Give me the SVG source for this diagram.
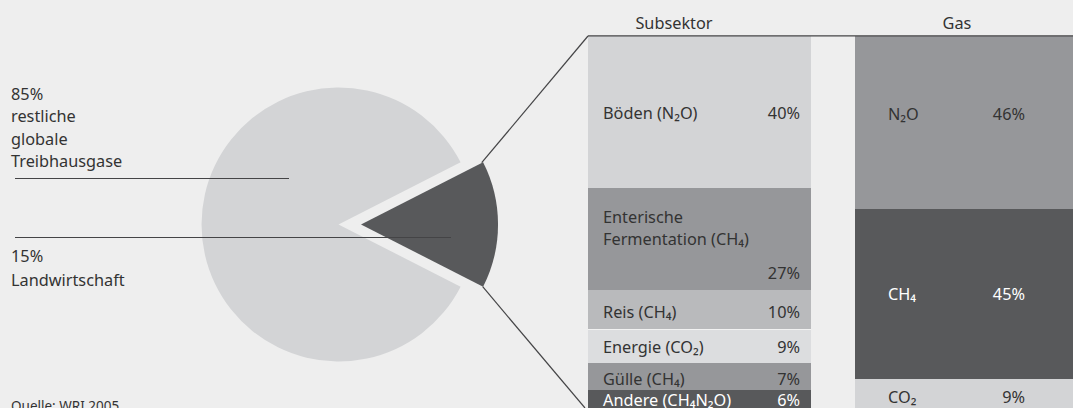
<svg xmlns="http://www.w3.org/2000/svg" width="1073" height="408" viewBox="0 0 1073 408">
<style>
text{font-family:"Noto Sans","Open Sans","Liberation Sans",sans-serif;font-size:16.3px;fill:#333333}
.w{fill:#ffffff}
.r{text-anchor:end}
.m{text-anchor:middle}
.ln{stroke:#444446;stroke-width:1.2;fill:none}
.src{font-size:13.5px}
</style>
<rect width="1073" height="408" fill="#eeeeee"/>
<g id="pie">
<path id="rest" d="M338.5,224.5 L460.6,162.3 A137,137 0 1,0 460.6,286.7 Z" fill="#d3d4d6"/>
<path id="agri" d="M361,224.5 L483.1,162.3 A137,137 0 0,1 483.1,286.7 Z" fill="#58595b"/>
</g>
<g id="labels-left">
<text x="11" y="99.5">85%</text>
<text x="11" y="122">restliche</text>
<text x="11" y="144.5">globale</text>
<text x="11" y="167">Treibhausgase</text>
<text x="11" y="262">15%</text>
<text x="11" y="285.5">Landwirtschaft</text>
<text class="src" x="11" y="411">Quelle: WRI 2005</text>
</g>
<g id="subsektor">
<rect x="588" y="36" width="223" height="152" fill="#d3d4d6"/>
<rect x="588" y="188" width="223" height="102" fill="#96979a"/>
<rect x="588" y="290" width="223" height="39" fill="#b9babc"/>
<rect x="588" y="329" width="223" height="34" fill="#dcdddf"/>
<rect x="588" y="363" width="223" height="27" fill="#96979a"/>
<rect x="588" y="390" width="223" height="18" fill="#58595b"/>
<line x1="588" y1="329.5" x2="811" y2="329.5" stroke="#f2f2f2" stroke-width="1"/>
<text class="m" x="674" y="29">Subsektor</text>
<text x="603" y="118.5">Böden (N₂O)</text>
<text class="r" x="800" y="118.5">40%</text>
<text x="603" y="222.5">Enterische</text>
<text x="603" y="245">Fermentation (CH₄)</text>
<text class="r" x="800" y="279">27%</text>
<text x="603" y="317.5">Reis (CH₄)</text>
<text class="r" x="800" y="317.5">10%</text>
<text x="603" y="352.5">Energie (CO₂)</text>
<text class="r" x="800" y="352.5">9%</text>
<text x="603" y="384.5">Gülle (CH₄)</text>
<text class="r" x="800" y="384.5">7%</text>
<text class="w" x="603" y="406">Andere (CH₄N₂O)</text>
<text class="w r" x="800" y="406">6%</text>
</g>
<g id="gas">
<rect x="855" y="36" width="218" height="173" fill="#96979a"/>
<rect x="855" y="209" width="218" height="170" fill="#58595b"/>
<rect x="855" y="379" width="218" height="29" fill="#d3d4d6"/>
<text class="m" x="957" y="28.5">Gas</text>
<text x="888" y="120">N₂O</text>
<text class="r" x="1025" y="120">46%</text>
<text class="w" x="888" y="300">CH₄</text>
<text class="w r" x="1025" y="300">45%</text>
<text x="888" y="403">CO₂</text>
<text class="r" x="1025" y="403">9%</text>
</g>
<g id="connectors">
<line class="ln" x1="15" y1="178.5" x2="289" y2="178.5"/>
<line class="ln" x1="15" y1="237.5" x2="451" y2="237.5"/>
<line class="ln" x1="481.7" y1="162.7" x2="588" y2="36"/>
<line class="ln" x1="482.7" y1="286.7" x2="585" y2="408"/>
<line class="ln" x1="588" y1="35.8" x2="1073" y2="35.8"/>
</g>
</svg>
